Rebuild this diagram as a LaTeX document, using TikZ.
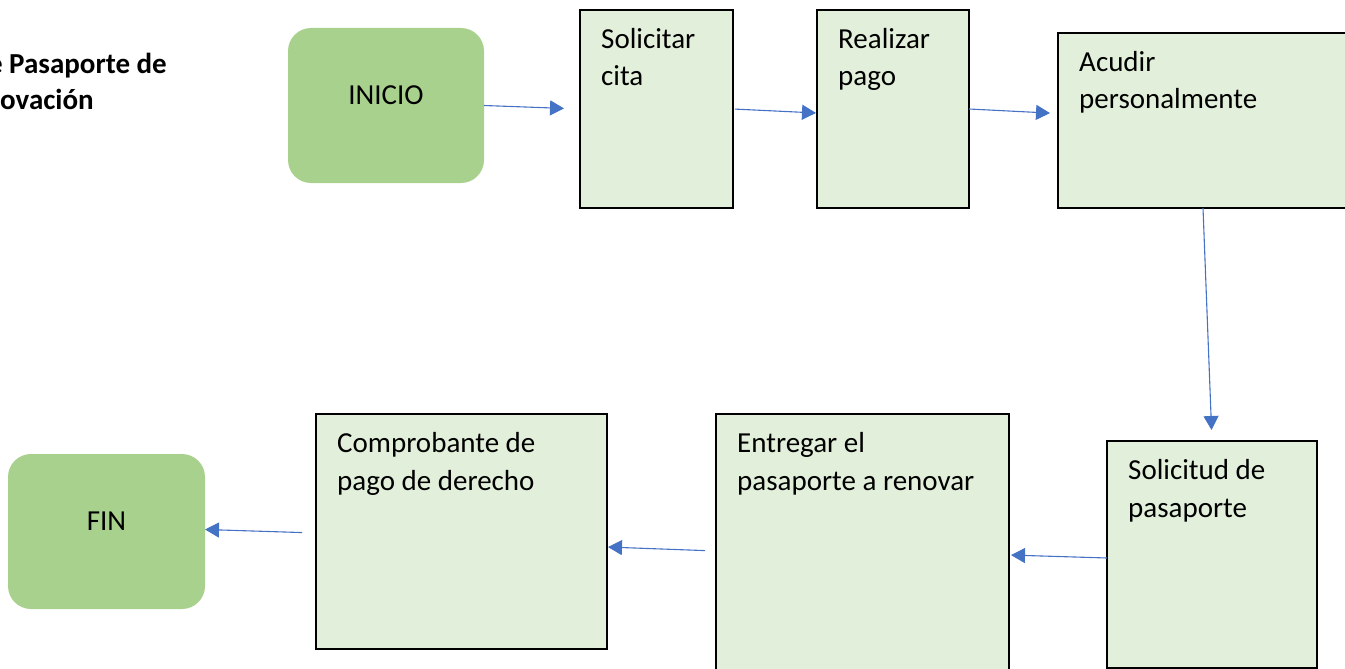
\documentclass[tikz,border=0pt]{standalone}
\usepackage{fontspec}
\setmainfont{Carlito}
\usetikzlibrary{arrows.meta,calc}
\definecolor{pasoverde}{HTML}{E2EFDA}
\definecolor{verdeclaro}{HTML}{A9D18E}
\definecolor{flecha}{HTML}{4472C4}
\tikzset{
  paso/.style={draw=black, line width=1.8pt, fill=pasoverde, anchor=north west, inner sep=0, outer sep=0},
  extremo/.style={fill=verdeclaro, rounded corners=23pt, anchor=north west, inner sep=0, outer sep=0},
  texto/.style={anchor=base west, inner sep=0, align=left, font=\fontsize{29}{37.5}\selectfont},
  flujo/.style={draw=flecha, line width=1.1pt, -{Triangle[length=14pt,width=15pt]}},
}

\begin{document}
\begin{tikzpicture}[x=1pt,y=-1pt]
    \clip (0,0) rectangle (1345,669);
    % titulo
    \node[anchor=base east, inner sep=0, font=\fontsize{29}{35}\selectfont\bfseries] (tit1) at (167,74) {e Pasaporte de};
    \node[anchor=base west, inner sep=0, font=\fontsize{29}{35}\selectfont\bfseries] (tit2) at (0,110) {ovación};
    % inicio y fin
    \node[extremo, minimum width=196pt, minimum height=155pt] (ini) at (288,28) {};
    \node[inner sep=0, font=\fontsize{29}{35}\selectfont] (iniT) at ($(ini.center)+(0,-10)$) {INICIO};
    \node[extremo, minimum width=197pt, minimum height=155pt] (fin) at (8,454) {};
    \node[inner sep=0, font=\fontsize{29}{35}\selectfont] (finT) at ($(fin.center)+(0,-10)$) {FIN};
    % pasos (base = ultima linea del texto)
    \node[paso, minimum width=153pt, minimum height=198pt] (cita) at (580,10) {};
    \node[texto] (citaT) at ($(cita.north west)+(21,76)$) {Solicitar\\cita};
    \node[paso, minimum width=152pt, minimum height=198pt] (pago) at (817,10) {};
    \node[texto] (pagoT) at ($(pago.north west)+(21,76)$) {Realizar\\pago};
    \node[paso, minimum width=300pt, minimum height=175pt] (acu) at (1058,33) {};
    \node[texto] (acuT) at ($(acu.north west)+(21,76)$) {Acudir\\personalmente};
    \node[paso, minimum width=210pt, minimum height=227pt] (sol) at (1107,441) {};
    \node[texto] (solT) at ($(sol.north west)+(21,76)$) {Solicitud de\\pasaporte};
    \node[paso, minimum width=293pt, minimum height=270pt] (ent) at (716,414) {};
    \node[texto] (entT) at ($(ent.north west)+(21,76)$) {Entregar el\\pasaporte a renovar};
    \node[paso, minimum width=291pt, minimum height=235pt] (comp) at (316,414) {};
    \node[texto] (compT) at ($(comp.north west)+(21,76)$) {Comprobante de\\pago de derecho};
    % flechas
    \draw[flujo, shorten >=16pt] (ini.east) -- (cita.west);
    \draw[flujo, shorten <=2pt, shorten >=1pt] (cita.east) -- ($(pago.west)+(0,4)$);
    \draw[flujo, shorten >=8pt] (pago.east) -- ($(acu.west)+(0,-7)$);
    \draw[flujo, shorten >=11pt] ($(acu.south)+(-5,0)$) -- (sol.north);
    \draw[flujo, shorten >=2pt] ($(sol.west)+(0,3.5)$) -- ($(ent.east)+(0,6)$);
    \draw[flujo, shorten <=11pt, shorten >=1pt] ($(ent.west)+(0,2)$) -- ($(comp.east)+(0,15.5)$);
    \draw[flujo, shorten <=14pt] ($(comp.west)+(0,1.5)$) -- ($(fin.east)+(0,-2)$);
\end{tikzpicture}
\end{document}
